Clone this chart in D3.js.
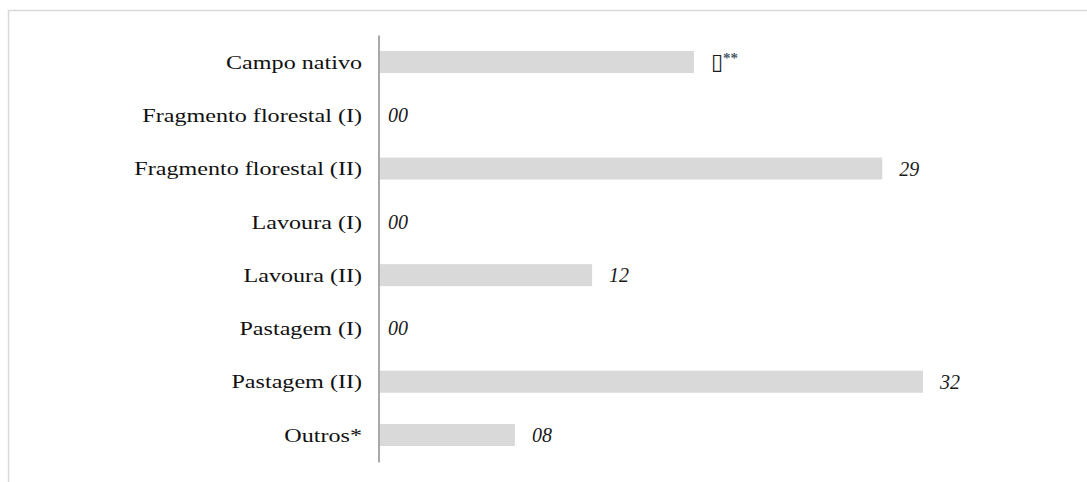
<!DOCTYPE html>
<html>
<head>
<meta charset="utf-8">
<script src="https://cdn.jsdelivr.net/npm/d3@7"></script>
<style>
    html, body { margin: 0; padding: 0; background: #fff; }
    svg { display: block; }
    text { font-family: 'Liberation Serif', 'DejaVu Serif', serif; }
</style>
</head>
<body>
<script>
const categories = ['Campo nativo', 'Fragmento florestal (I)', 'Fragmento florestal (II)', 'Lavoura (I)', 'Lavoura (II)', 'Pastagem (I)', 'Pastagem (II)', 'Outros*']
const values = [18.5, 0, 29.6, 0, 12.5, 0, 32, 7.95]
const valueLabels = ['\u25AF', '00', '29', '00', '12', '00', '32', '08']
const valueNotes = ['**', '', '', '', '', '', '', '']

const drawChart = () => {
    const w = 1087
    const h = 482

    const svg = d3.select('body').append('svg')
        .attr('width', w)
        .attr('height', h)

    // frame (only top and left edges are visible in the reference)
    svg.append('rect')
        .attr('x', 8.5)
        .attr('y', 10.5)
        .attr('width', 1200)
        .attr('height', 600)
        .attr('fill', 'none')
        .attr('stroke', '#d9d9d9')
        .attr('stroke-width', 1.5)

    const data = categories.map((c, i) => ({ cat: c, value: values[i], label: valueLabels[i], note: valueNotes[i] }))

    const y = d3.scaleBand()
        .domain(categories)
        .range([35, 462])
        .paddingInner(0.587)
        .paddingOuter(0.3)

    const x = d3.scaleLinear()
        .domain([0, 32])
        .range([380, 923])

    svg.append('g').selectAll('rect')
        .data(data)
        .enter()
        .append('rect')
            .attr('x', x(0))
            .attr('y', d => y(d.cat))
            .attr('width', d => x(d.value) - x(0))
            .attr('height', y.bandwidth())
            .attr('fill', '#d9d9d9')

    // vertical axis line, no ticks
    const yAxis = d3.axisLeft(y).tickSize(0).tickFormat('')
    svg.append('g')
        .attr('transform', 'translate(378.5, 0)')
        .call(yAxis)
        .call(g => g.select('.domain').attr('stroke', '#8c8c8c').attr('stroke-width', 1.5))

    // category labels (stretched serif as in the reference)
    svg.append('g').selectAll('text')
        .data(data)
        .enter()
        .append('text')
            .attr('transform', d => `translate(362, ${y(d.cat) + y.bandwidth() / 2}) scale(1.27, 1)`)
            .attr('text-anchor', 'end')
            .attr('dy', '0.35em')
            .attr('font-family', 'Liberation Serif')
            .attr('font-size', 19)
            .attr('fill', '#111')
            .text(d => d.cat)

    // value labels
    const vl = svg.append('g').selectAll('text')
        .data(data)
        .enter()
        .append('text')
            .attr('x', d => d.value > 0 ? x(d.value) + 17 : x(0) + 8)
            .attr('y', d => y(d.cat) + y.bandwidth() / 2)
            .attr('dy', '0.35em')
            .attr('font-family', 'Liberation Serif')
            .attr('font-size', 20)
            .attr('font-style', 'italic')
            .attr('fill', '#1a1a1a')

    vl.append('tspan')
        .attr('font-family', d => d.note ? 'DejaVu Serif' : null)
        .attr('font-size', d => d.note ? 22 : null)
        .text(d => d.label)
    vl.append('tspan')
        .attr('dy', '-0.4em')
        .attr('font-size', 15)
        .attr('font-style', 'normal')
        .attr('font-weight', 'bold')
        .attr('fill', '#4a5a6a')
        .text(d => d.note)
}

drawChart()
</script>
</body>
</html>
